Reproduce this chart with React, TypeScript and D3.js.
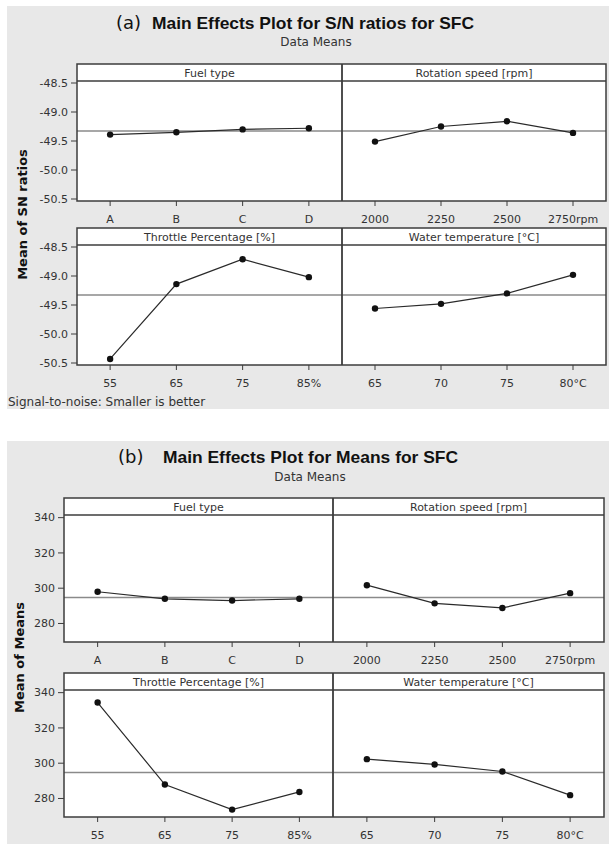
import React from "react";
import * as d3 from "d3";

// ---- categories / levels ----
const factorNames = ["Fuel type", "Rotation speed [rpm]", "Throttle Percentage [%]", "Water temperature [°C]"];
const fuelLevels = ["A", "B", "C", "D"];
const rpmLevels = ["2000", "2250", "2500", "2750rpm"];
const throttleLevels = ["55", "65", "75", "85%"];
const waterLevels = ["65", "70", "75", "80°C"];

// ---- (a) S/N ratio means ----
const snFuel = [-49.39, -49.35, -49.3, -49.28];
const snRpm = [-49.51, -49.25, -49.16, -49.36];
const snThrottle = [-50.43, -49.14, -48.71, -49.02];
const snWater = [-49.56, -49.48, -49.3, -48.98];
const snTicks = [-48.5, -49.0, -49.5, -50.0, -50.5];

// ---- (b) means ----
const meanFuel = [298, 294, 293, 294];
const meanRpm = [301.7, 291.4, 288.8, 297.2];
const meanThrottle = [334.4, 287.9, 273.7, 283.7];
const meanWater = [302.3, 299.3, 295.3, 281.9];
const meanTicks = [340, 320, 300, 280];

type Chart = {
  bgTop: number; bgBottom: number;
  label: string; labelX: number; title: string; titleX: number; titleLen: number; titleY: number;
  subY: number; subX: number;
  left: number; mid: number; right: number;
  rowTops: number[]; stripH: number; plotH: number;
  yDomain: [number, number]; yPad: number;
  ticks: number[]; fmt: (v: number) => string;
  yTitle: string; yTitleX: number;
  series: number[][]; levels: string[][];
  footer?: string;
};

const charts: Chart[] = [
  {
    bgTop: 6, bgBottom: 409,
    label: "(a)", labelX: 116, title: "Main Effects Plot for S/N ratios for SFC", titleX: 152, titleLen: 322, titleY: 29,
    subY: 46, subX: 316,
    left: 77, mid: 342, right: 606,
    rowTops: [64, 228], stripH: 17, plotH: 120,
    yDomain: [-50.5, -48.5], yPad: 2,
    ticks: snTicks, fmt: (v) => v.toFixed(1),
    yTitle: "Mean of SN ratios", yTitleX: 22,
    series: [snFuel, snRpm, snThrottle, snWater],
    levels: [fuelLevels, rpmLevels, throttleLevels, waterLevels],
    footer: "Signal-to-noise: Smaller is better",
  },
  {
    bgTop: 441, bgBottom: 844,
    label: "(b)", labelX: 118, title: "Main Effects Plot for Means for SFC", titleX: 163, titleLen: 295, titleY: 463,
    subY: 481, subX: 310,
    left: 64, mid: 333, right: 604,
    rowTops: [498, 673], stripH: 17, plotH: 127,
    yDomain: [269.5, 341.5], yPad: 0,
    ticks: meanTicks, fmt: (v) => String(v),
    yTitle: "Mean of Means", yTitleX: 19,
    series: [meanFuel, meanRpm, meanThrottle, meanWater],
    levels: [fuelLevels, rpmLevels, throttleLevels, waterLevels],
  },
];

const FRAME = "#3c3c3c";
const TXT = "#333";
const TICKFONT = "DejaVu Sans, sans-serif";

function ChartBlock({ c }: { c: Chart }) {
  const grand = d3.mean(c.series.flat()) as number;
  const rows = c.rowTops.map((top, r) => {
    const plotTop = top + c.stripH;
    const plotBottom = plotTop + c.plotH;
    const y = d3.scaleLinear().domain(c.yDomain).range([plotBottom - c.yPad, plotTop + c.yPad]);
    const panels = [0, 1].map((p) => {
      const idx = r * 2 + p;
      const x0 = p === 0 ? c.left : c.mid;
      const x1 = p === 0 ? c.mid : c.right;
      const x = d3.scalePoint<string>().domain(c.levels[idx]).range([x0, x1]).padding(0.5);
      const vals = c.series[idx];
      const line = d3.line<number>().x((_, i) => x(c.levels[idx][i]) as number).y((d) => y(d));
      return (
        <g key={p}>
          <text x={(x0 + x1) / 2} y={top + 13} textAnchor="middle" fontFamily={TICKFONT} fontSize={11} fill={TXT}>
            {factorNames[idx]}
          </text>
          <line x1={x0} x2={x1} y1={y(grand)} y2={y(grand)} stroke="#8a8a8a" strokeWidth={1.5} />
          <path d={line(vals) || ""} fill="none" stroke="#2a2a2a" strokeWidth={1.2} />
          {vals.map((v, i) => (
            <circle key={i} cx={x(c.levels[idx][i]) as number} cy={y(v)} r={3.2} fill="#111" />
          ))}
          {c.levels[idx].map((l) => (
            <g key={l}>
              <line x1={x(l) as number} x2={x(l) as number} y1={plotBottom} y2={plotBottom + 5} stroke={FRAME} strokeWidth={1} />
              <text x={x(l) as number} y={plotBottom + 22} textAnchor="middle" fontFamily={TICKFONT} fontSize={11} fill={TXT}>
                {l}
              </text>
            </g>
          ))}
        </g>
      );
    });
    return (
      <g key={r}>
        <rect x={c.left} y={top} width={c.right - c.left} height={c.stripH + c.plotH} fill="#fff" />
        {panels}
        {c.ticks.map((t) => (
          <g key={t}>
            <line x1={c.left - 6} x2={c.left} y1={y(t)} y2={y(t)} stroke={FRAME} strokeWidth={1} />
            <text x={c.left - 9} y={y(t)} dy="0.35em" textAnchor="end" fontFamily={TICKFONT} fontSize={11} fill={TXT}>
              {c.fmt(t)}
            </text>
          </g>
        ))}
        <line x1={c.left} x2={c.right} y1={plotTop} y2={plotTop} stroke={FRAME} strokeWidth={1.3} />
        <line x1={c.mid} x2={c.mid} y1={top} y2={plotBottom} stroke={FRAME} strokeWidth={1.8} />
        <rect x={c.left} y={top} width={c.right - c.left} height={c.stripH + c.plotH} fill="none" stroke={FRAME} strokeWidth={1.5} />
      </g>
    );
  });
  const midY = (c.rowTops[0] + c.rowTops[1] + c.stripH + c.plotH) / 2;
  return (
    <g>
      <rect x={7} y={c.bgTop} width={609 - 7} height={c.bgBottom - c.bgTop} fill="#e8e8e8" />
      <text x={c.labelX} y={c.titleY} fontFamily="DejaVu Sans, sans-serif" fontSize={18} fill="#111">
        {c.label}
      </text>
      <text x={c.titleX} y={c.titleY} fontFamily="Liberation Sans, Arial, sans-serif" fontWeight="bold" fontSize={17}
        textLength={c.titleLen} lengthAdjust="spacingAndGlyphs" fill="#111">
        {c.title}
      </text>
      <text x={c.subX} y={c.subY} textAnchor="middle" fontFamily={TICKFONT} fontSize={12} fill={TXT}>
        Data Means
      </text>
      {rows}
      <text transform={`translate(${c.yTitleX},${midY}) rotate(-90)`} textAnchor="middle" dy="0.35em"
        fontFamily="DejaVu Sans, sans-serif" fontWeight="bold" fontSize={13} fill="#111">
        {c.yTitle}
      </text>
      {c.footer && (
        <text x={8} y={c.bgBottom - 3} fontFamily={TICKFONT} fontSize={12} fill={TXT}>
          {c.footer}
        </text>
      )}
    </g>
  );
}

export default function App() {
  return (
    <svg width={609} height={844} style={{ position: "absolute", left: 0, top: 0, display: "block", background: "#fff" }}>
      {charts.map((c, i) => (
        <ChartBlock key={i} c={c} />
      ))}
    </svg>
  );
}
